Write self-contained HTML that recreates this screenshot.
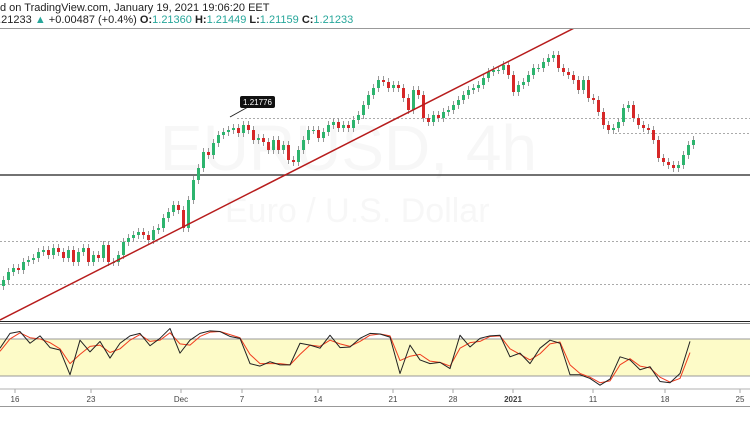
<!DOCTYPE html>
<html><head><meta charset="utf-8"><style>
html,body{margin:0;padding:0;background:#fff;width:750px;height:430px;overflow:hidden;font-family:"Liberation Sans",sans-serif}
svg{display:block}
</style></head><body>
<svg id="c" width="750" height="430" viewBox="0 0 750 430">
<text x="0" y="11" font-size="11" fill="#222">d on TradingView.com, January 19, 2021 19:06:20 EET</text>
<text x="-8" y="23" font-size="11" fill="#222">1.21233 <tspan fill="#26a69a">▲</tspan> +0.00487 (+0.4%) <tspan font-weight="bold">O:</tspan><tspan fill="#26a69a">1.21360</tspan> <tspan font-weight="bold">H:</tspan><tspan fill="#26a69a">1.21449</tspan> <tspan font-weight="bold">L:</tspan><tspan fill="#26a69a">1.21159</tspan> <tspan font-weight="bold">C:</tspan><tspan fill="#26a69a">1.21233</tspan></text>
<line x1="0" y1="28.5" x2="750" y2="28.5" stroke="#999" stroke-width="1"/>
<text x="160" y="170" font-size="64" fill="#f7f7f7">EURUSD, 4h</text>
<text x="225" y="222" font-size="34" fill="#f7f7f7">Euro / U.S. Dollar</text>
<line x1="237" y1="118.5" x2="750" y2="118.5" stroke="#aaa" stroke-dasharray="2,2"/>
<line x1="615" y1="133.5" x2="750" y2="133.5" stroke="#aaa" stroke-dasharray="2,2"/>
<line x1="0" y1="241.5" x2="750" y2="241.5" stroke="#aaa" stroke-dasharray="2,2"/>
<line x1="0" y1="284.5" x2="750" y2="284.5" stroke="#aaa" stroke-dasharray="2,2"/>
<line x1="0" y1="175" x2="750" y2="175" stroke="#444" stroke-width="1.5"/>
<g id="candles"></g>
<line x1="0" y1="320" x2="590" y2="20" stroke="#b71c1c" stroke-width="1.5" clip-path="url(#cp)"/>
<clipPath id="cp"><rect x="0" y="29" width="750" height="292"/></clipPath>
<g>
<line x1="230" y1="117" x2="248" y2="107" stroke="#222"/>
<rect x="240" y="96" width="35" height="12" rx="2" fill="#111"/>
<text x="257.5" y="105" font-size="8" fill="#fff" text-anchor="middle">1.21776</text>
</g>
<line x1="0" y1="321.5" x2="750" y2="321.5" stroke="#222"/>
<line x1="0" y1="323.5" x2="750" y2="323.5" stroke="#888"/>
<rect x="0" y="339" width="750" height="37" fill="#fdfbc8"/>
<line x1="0" y1="339" x2="750" y2="339" stroke="#999"/>
<line x1="0" y1="376" x2="750" y2="376" stroke="#999"/>
<g id="stoch"></g>
<line x1="0" y1="389" x2="750" y2="389" stroke="#ccc" stroke-width="1.5"/>
<g id="xax"></g>
<line x1="0" y1="406.5" x2="750" y2="406.5" stroke="#999"/>
</svg>
<script>
const closes=[1.2016,1.2024,1.2028,1.2026,1.2034,1.2036,1.2038,1.2044,1.2046,1.2041,1.2048,1.2044,1.2038,1.2046,1.2034,1.2044,1.2048,1.2034,1.2041,1.2038,1.2051,1.2034,1.2034,1.2041,1.2054,1.2058,1.2061,1.2064,1.2061,1.2056,1.2066,1.2068,1.2078,1.2084,1.2091,1.2086,1.2068,1.2096,1.2116,1.2128,1.2144,1.2141,1.2153,1.2161,1.2164,1.2166,1.2168,1.2163,1.2171,1.2166,1.2156,1.2158,1.2154,1.2146,1.2156,1.2146,1.2151,1.2136,1.2134,1.2146,1.2156,1.2166,1.2166,1.2158,1.2164,1.2171,1.2174,1.2168,1.2171,1.2168,1.2176,1.2181,1.2191,1.2201,1.2208,1.2216,1.2214,1.2208,1.2211,1.2208,1.2198,1.2186,1.2206,1.2201,1.2178,1.2174,1.2181,1.2178,1.2184,1.2186,1.2191,1.2196,1.2201,1.2206,1.2208,1.2211,1.2218,1.2224,1.2226,1.2226,1.2231,1.2221,1.2204,1.2211,1.2214,1.2221,1.2228,1.2228,1.2234,1.2238,1.2241,1.2228,1.2224,1.2221,1.2216,1.2206,1.2216,1.2198,1.2196,1.2184,1.2171,1.2166,1.2168,1.2174,1.2188,1.2191,1.2178,1.2171,1.2168,1.2166,1.2156,1.2138,1.2134,1.2131,1.2128,1.2131,1.2141,1.2151,1.2156];
const firstOpen=1.2010;
const stochK=[65,89,92,73,85,66,62,22,78,59,76,49,73,85,89,69,81,97,57,78,89,93,92,84,81,40,36,43,38,38,73,70,65,86,66,67,81,89,88,83,24,70,46,40,42,32,86,67,81,85,86,51,57,40,65,78,73,22,22,16,5,15,51,46,30,35,11,9,24,76];
const stochD=[60,80,90,82,80,74,64,40,55,68,70,58,64,78,87,76,78,90,72,70,84,91,92,87,82,55,40,40,40,38,55,70,68,78,72,68,76,86,88,85,45,52,55,44,42,36,65,74,76,84,85,64,55,46,56,72,75,38,24,18,9,12,38,48,36,33,18,10,16,58];
const xLabels=["16","23","Dec","7","14","21","28","2021","11","18","25"];
const xLabelPos=[15,91,181,242,318,393,453,513,593,665,740];
const NS="http://www.w3.org/2000/svg";
function py(p){return (1.2296-p)*10000;}
function cx(i){return 2+i*5;}
function sy(v){return 388.3-v*0.617;}
function sx(i){return i*10;}
const cg=document.getElementById('candles');
let prev=firstOpen;
closes.forEach((c,i)=>{
  const o=prev;prev=c;
  const up=c>=o;const col=up?"#2db46e":"#d62828";
  const g=document.createElementNS(NS,'g');
  
  
  const hi=Math.max(o,c)+0.0004, lo=Math.min(o,c)-0.0004;
  const w=document.createElementNS(NS,'line');
  w.setAttribute('x1',cx(i)+1.5);w.setAttribute('x2',cx(i)+1.5);
  w.setAttribute('y1',py(hi));w.setAttribute('y2',py(lo));
  w.setAttribute('stroke','#999');w.setAttribute('stroke-width','1');
  g.appendChild(w);
  const r=document.createElementNS(NS,'rect');
  const t=Math.min(py(o),py(c));const h=Math.max(1,Math.abs(py(o)-py(c)));
  r.setAttribute('x',cx(i));r.setAttribute('y',t);r.setAttribute('width',3);r.setAttribute('height',h);
  r.setAttribute('fill',col);
  g.appendChild(r);
  cg.appendChild(g);
});
const sg=document.getElementById('stoch');
function pl(arr,col,name){
  const p=document.createElementNS(NS,'polyline');
  p.setAttribute('points',arr.map((v,i)=>sx(i)+','+sy(v)).join(' '));
  p.setAttribute('fill','none');p.setAttribute('stroke',col);p.setAttribute('stroke-width','1');
  p.setAttribute('stroke-linejoin','round');
  
  
  sg.appendChild(p);
}
pl(stochD,'#f03c1e','stoch-d-line');
pl(stochK,'#222','stoch-k-line');
const xg=document.getElementById('xax');
xLabels.forEach((l,i)=>{
  const t=document.createElementNS(NS,'text');
  t.setAttribute('x',xLabelPos[i]);t.setAttribute('y',402);
  t.setAttribute('font-size','8');t.setAttribute('fill','#444');t.setAttribute('text-anchor','middle');
  if(l==='2021')t.setAttribute('font-weight','bold');
  t.textContent=l;
  
  
  xg.appendChild(t);
  const tk=document.createElementNS(NS,'line');
  tk.setAttribute('x1',xLabelPos[i]);tk.setAttribute('x2',xLabelPos[i]);tk.setAttribute('y1',389);tk.setAttribute('y2',393);
  tk.setAttribute('stroke','#aaa');
  
  
  xg.appendChild(tk);
});
</script>
</body></html>
